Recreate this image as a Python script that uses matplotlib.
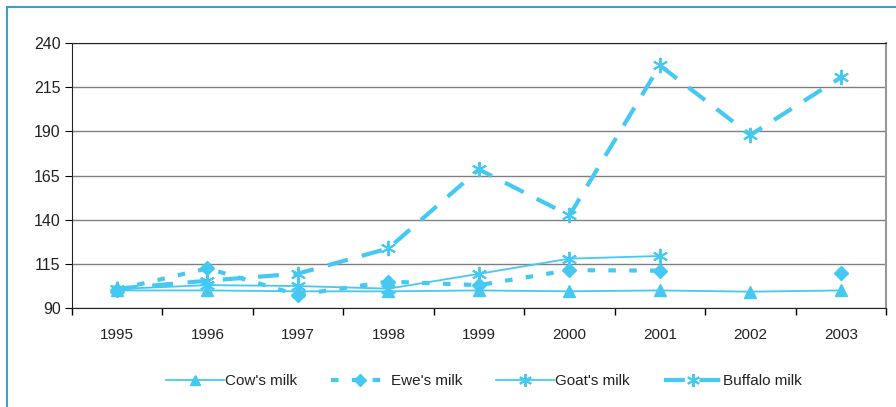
import numpy as np
import matplotlib.pyplot as plt
from matplotlib.patches import Rectangle

plt.rcParams['font.family'] = ['Liberation Sans', 'DejaVu Sans']

# data
years = ['1995', '1996', '1997', '1998', '1999', '2000', '2001', '2002', '2003']
cow = [100, 100, 99.5, 99.5, 100, 99.5, 100, 99.3, 100]
ewe = [100.5, 112.5, 97.5, 105, 103, 111.5, 111.2, np.nan, 109.6]
goat = [100.8, 103, 102.5, 101, 109.4, 118, 119.5, np.nan, np.nan]
buffalo = [101, 105.5, 109.5, 123.8, 168.5, 142.5, 227.4, 188, 220.6]

col = '#45C8F2'
x = np.arange(len(years))
star = (6, 2, 0)  # asterisk marker

fig = plt.figure(figsize=(8.96, 4.07), dpi=100)
ax = fig.add_axes([0.080, 0.243, 0.909, 0.651])

ax.plot(x, cow, color=col, lw=1.3, marker='^', ms=8, label="Cow's milk")
ax.plot(x, ewe, color=col, lw=3, ls=(0, (1.8, 3.2)), marker='D', ms=7, label="Ewe's milk")
ax.plot(x, goat, color=col, lw=1.3, marker=star, ms=11, mew=1.4, label="Goat's milk")
ax.plot(x, buffalo, color=col, lw=3, ls=(0, (5, 3.5)), marker=star, ms=11, mew=1.4, label='Buffalo milk')

ax.set_xlim(-0.5, len(years) - 0.5)
ax.set_ylim(90, 240)
ax.set_yticks(np.arange(90, 241, 25))
ax.set_xticks(x)
ax.set_xticklabels(years)
ax.set_xticks(np.arange(-0.5, len(years), 1), minor=True)
ax.tick_params(axis='x', which='major', length=0, pad=14, labelsize=11, labelcolor='#222222')
ax.tick_params(axis='x', which='minor', length=5, direction='out', width=1)
ax.tick_params(axis='y', length=5, direction='out', labelsize=11.5, pad=3, labelcolor='#222222')
ax.grid(axis='y', color='#808080', lw=1)
ax.set_axisbelow(True)
for s in ['left', 'bottom', 'top']:
    ax.spines[s].set_color('#222222')
ax.spines['right'].set_color('#999999')
ax.spines['right'].set_linewidth(1.5)

leg = fig.legend(loc='center', bbox_to_anchor=(0.54, 0.063), ncol=4, frameon=False,
                 fontsize=11, handlelength=3.8, columnspacing=2.2, handletextpad=0.1,
                 markerscale=0.85)
for t in leg.get_texts():
    t.set_color('#222222')

fig.patches.append(Rectangle((0.008, -0.1), 1.1, 1.082, transform=fig.transFigure,
                             fill=False, edgecolor='#3A9FCC', lw=1.5))

fig.savefig('out.png', dpi=100)
